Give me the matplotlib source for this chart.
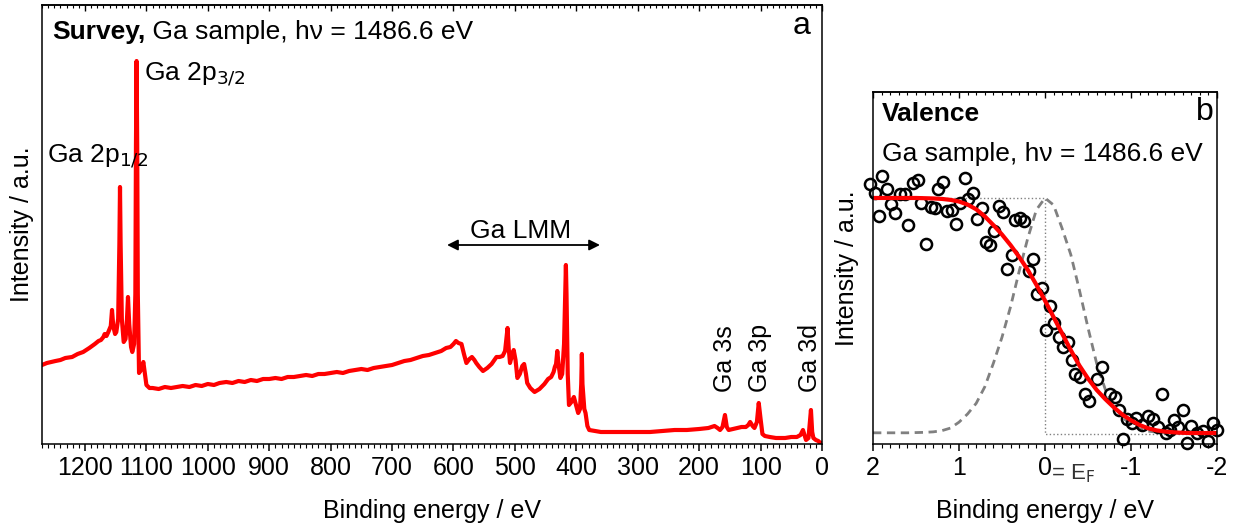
import numpy as np
import matplotlib.pyplot as plt
from matplotlib.ticker import MultipleLocator

plt.rcParams['font.family'] = ['Liberation Sans', 'DejaVu Sans']
plt.rcParams['font.size'] = 18

# Survey spectrum (binding energy in eV, intensity in a.u.)
survey_be = [1270, 1262, 1255, 1248, 1240, 1232, 1221, 1212, 1203, 1193, 1184, 1178, 1174,
             1170, 1168, 1165, 1162, 1158, 1156, 1154, 1151, 1149, 1146, 1144, 1143, 1142,
             1140, 1137, 1134, 1132, 1130, 1128, 1125, 1123, 1120, 1118, 1117, 1116, 1115,
             1114, 1112, 1108, 1105, 1102, 1100, 1095, 1090, 1080, 1070, 1060, 1050, 1041,
             1030, 1020, 1010, 1000, 990, 981, 970, 960, 950, 940, 930, 920, 910, 900, 890,
             880, 870, 860, 850, 840, 830, 820, 810, 800, 790, 780, 770, 760, 750, 740, 730,
             720, 710, 700, 690, 680, 670, 660, 650, 640, 630, 620, 612, 605, 600, 596, 592,
             587, 583, 579, 574, 570, 566, 563, 558, 552, 545, 538, 530, 525, 520, 516, 512,
             510, 508, 505, 502, 499, 496, 492, 488, 485, 482, 480, 475, 468, 460, 452, 446,
             441, 437, 435, 433, 431, 429, 426, 423, 420, 418, 417, 416, 414, 412, 408, 404,
             400, 397, 394, 392, 391, 390, 387, 385, 382, 379, 370, 360, 350, 340, 320, 300,
             280, 260, 240, 220, 200, 185, 175, 170, 166, 162, 158, 155, 152, 145, 138, 131,
             124, 120, 117, 113, 110, 106, 103, 100, 97, 93, 85, 75, 68, 60, 50, 41, 35, 31,
             28, 26, 22, 18, 16, 14, 10, 6, 3, 0]
survey_int = [79, 81, 82, 83, 84, 86, 87, 90, 92, 96, 100, 103, 104,
              107, 110, 108, 112, 118, 134, 118, 110, 112, 125, 200, 257, 200,
              125, 102, 105, 120, 147, 120, 97, 92, 100, 150, 300, 383, 300,
              150, 71, 75, 82, 68, 59, 56, 56, 55, 57, 56, 57, 58,
              57, 59, 58, 60, 59, 61, 62, 61, 63, 62, 64, 63, 65, 65, 66,
              65, 67, 67, 68, 69, 68, 70, 70, 71, 72, 71, 73, 74, 75, 74, 76,
              77, 78, 79, 81, 83, 84, 86, 88, 89, 91, 93, 96, 97, 100, 103, 101,
              100, 90, 81, 85, 87, 84, 81, 77, 73, 76, 80, 87, 87, 88, 93, 116,
              95, 81, 88, 94, 84, 66, 70, 78, 80, 70, 61, 56, 52, 55, 60, 65,
              67, 72, 77, 80, 93, 80, 66, 70, 100, 150, 179, 150, 70, 39, 42, 47,
              38, 31, 35, 60, 90, 60, 35, 31, 18, 14, 13, 12, 12, 12, 12, 12,
              12, 13, 14, 14, 15, 16, 18, 16, 14, 17, 29, 17, 14, 15, 16, 17,
              17, 19, 22, 18, 16, 22, 41, 25, 10, 8, 7, 6, 6, 6, 7, 7, 9, 14,
              8, 4, 6, 34, 12, 6, 4, 3, 1, 1]

# Valence band: measured points
vb_be = [2.03, 1.98, 1.93, 1.89, 1.84, 1.79, 1.74, 1.69, 1.63, 1.59, 1.53, 1.48, 1.44,
         1.38, 1.33, 1.28, 1.24, 1.19, 1.14, 1.08, 1.03, 0.99, 0.93, 0.90, 0.84, 0.79,
         0.73, 0.69, 0.64, 0.59, 0.54, 0.49, 0.44, 0.38, 0.35, 0.29, 0.24, 0.19, 0.14,
         0.09, 0.03, -0.01, -0.06, -0.11, -0.16, -0.21, -0.27, -0.31, -0.35, -0.41,
         -0.46, -0.51, -0.60, -0.66, -0.75, -0.81, -0.86, -0.91, -0.95, -1.01, -1.06,
         -1.13, -1.20, -1.26, -1.31, -1.36, -1.41, -1.45, -1.50, -1.55, -1.60, -1.65,
         -1.70, -1.77, -1.84, -1.90, -1.95, -2.00]
vb_int = [1.058, 1.020, 0.925, 1.094, 1.037, 0.973, 0.935, 1.016, 1.016, 0.886, 1.062, 1.076, 0.978,
          0.805, 0.963, 0.956, 1.038, 1.069, 0.945, 0.949, 0.890, 0.978, 1.083, 0.994, 1.020, 0.911,
          0.956, 0.815, 0.801, 0.861, 0.967, 0.939, 0.699, 0.758, 0.907, 0.914, 0.904, 0.691, 0.740,
          0.595, 0.619, 0.441, 0.542, 0.472, 0.410, 0.367, 0.391, 0.314, 0.254, 0.240,
          0.169, 0.141, 0.234, 0.285, 0.171, 0.156, 0.102, -0.023, 0.064, 0.047, 0.068,
          0.040, 0.075, 0.064, 0.030, 0.169, 0.004, 0.017, 0.058, 0.030, 0.100, -0.037,
          0.034, 0.004, 0.014, -0.029, 0.047, 0.016]

# Fit curve and broadening function
curve_be = [2.0, 1.9, 1.8, 1.7, 1.6, 1.5, 1.4, 1.3, 1.2, 1.1, 1.0, 0.9, 0.8, 0.7, 0.6, 0.5,
            0.4, 0.3, 0.2, 0.1, 0.0, -0.1, -0.2, -0.3, -0.4, -0.5, -0.6, -0.7, -0.8, -0.9,
            -1.0, -1.1, -1.2, -1.3, -1.4, -1.5, -1.6, -1.7, -1.8, -1.9, -2.0]
fit_int = [1.0, 1.0, 1.0, 1.0, 1.0, 1.0, 0.999, 0.998, 0.996, 0.992, 0.985, 0.972, 0.952,
           0.922, 0.885, 0.845, 0.80, 0.75, 0.695, 0.632, 0.565, 0.495, 0.425, 0.355, 0.29,
           0.235, 0.187, 0.148, 0.113, 0.082, 0.058, 0.038, 0.024, 0.015, 0.01, 0.007,
           0.005, 0.004, 0.004, 0.004, 0.004]
gauss_int = [0.005, 0.005, 0.005, 0.005, 0.005, 0.006, 0.007, 0.009, 0.014, 0.025, 0.05,
             0.085, 0.13, 0.2, 0.3, 0.41, 0.54, 0.69, 0.83, 0.95, 1.0, 0.97, 0.87, 0.76,
             0.61, 0.45, 0.3, 0.19, 0.12, 0.07, 0.04, 0.022, 0.012, 0.008, 0.006, 0.005,
             0.005, 0.005, 0.005, 0.005, 0.005]
step_be = [2.0, 0.0, 0.0, -2.0]
step_int = [1.0, 1.0, 0.0, 0.0]

fig = plt.figure(figsize=(12.42, 5.31), dpi=100)
ax1 = fig.add_axes([42 / 1242, 1 - 444 / 531, 780 / 1242, 439 / 531])
ax2 = fig.add_axes([873 / 1242, 1 - 444 / 531, 344 / 1242, 352 / 531])

# ---- panel a: survey ----
ax1.plot(survey_be, survey_int, color='#ff0000', lw=3.0, solid_joinstyle='round')
ax1.set_xlim(1270, 0)
ax1.set_ylim(0, 439)
ax1.set_yticks([])
ax1.xaxis.set_major_locator(MultipleLocator(100))
ax1.xaxis.set_minor_locator(MultipleLocator(10))
ax1.set_xlabel('Binding energy / eV', labelpad=14)
ax1.set_ylabel('Intensity / a.u.', labelpad=6)

t1 = ax1.text(0.0128, 0.938, 'Survey,', transform=ax1.transAxes, fontweight='bold',
              fontsize=19, ha='left', va='center')
ax1.annotate(' Ga sample, h\u03bd = 1486.6 eV', xy=(1, 0), xycoords=t1, fontsize=19,
             ha='left', va='bottom')
ax1.text(0.974, 0.952, 'a', transform=ax1.transAxes, fontsize=23, ha='center', va='center')

ax1.text(1104, 369, 'Ga 2p$_{3/2}$', fontsize=19, ha='left', va='center')
ax1.text(1262, 287, 'Ga 2p$_{1/2}$', fontsize=19, ha='left', va='center')
ax1.annotate('', xy=(357, 199), xytext=(615, 199),
             arrowprops=dict(arrowstyle='<|-|>', color='black', lw=1.3, mutation_scale=16))
ax1.text(490, 213, 'Ga LMM', fontsize=19, ha='center', va='center')
for be, lab in [(158, 'Ga 3s'), (101, 'Ga 3p'), (20, 'Ga 3d')]:
    ax1.text(be, 52, lab, rotation=90, ha='center', va='bottom')

# ---- panel b: valence ----
ax2.plot(step_be, step_int, color='#808080', lw=1.0, ls=':')
ax2.plot(curve_be, gauss_int, color='#808080', lw=2.0, ls=(0, (3, 2)))
ax2.plot(vb_be, vb_int, ls='none', marker='o', ms=8, mfc='none', mec='black', mew=1.8,
         clip_on=False)
ax2.plot(curve_be, fit_int, color='#ff0000', lw=3.0)
ax2.set_xlim(2, -2)
ax2.set_ylim(-0.0424, 1.449)
ax2.set_yticks([])
ax2.xaxis.set_major_locator(MultipleLocator(1))
ax2.xaxis.set_minor_locator(MultipleLocator(0.1))
ax2.set_xticks([2, 1, 0, -1, -2])
ax2.set_xticklabels(['2', '1', '0', '-1', '-2'])
ax2.set_xlabel('Binding energy / eV', labelpad=14)
ax2.set_ylabel('Intensity / a.u.', labelpad=10)
ax2.text(-0.07, -0.052, '= E$_\\mathrm{F}$', transform=ax2.get_xaxis_transform(),
         fontsize=16, color='#333333', ha='left', va='top')

ax2.text(0.026, 0.9375, 'Valence', transform=ax2.transAxes, fontweight='bold',
         fontsize=19, ha='left', va='center')
ax2.text(0.026, 0.824, 'Ga sample, h\u03bd = 1486.6 eV', transform=ax2.transAxes,
         fontsize=19, ha='left', va='center')
ax2.text(0.965, 0.943, 'b', transform=ax2.transAxes, fontsize=23, ha='center', va='center')

for ax in (ax1, ax2):
    for sp in ax.spines.values():
        sp.set_linewidth(1.1)
    ax.tick_params(axis='x', which='major', direction='out', length=5, width=1.1, top=False)
    ax.tick_params(axis='x', which='minor', direction='out', length=3, width=0.8, top=False)
    sec = ax.secondary_xaxis('top')
    sec.xaxis.set_major_locator(ax.xaxis.get_major_locator())
    sec.xaxis.set_minor_locator(ax.xaxis.get_minor_locator())
    sec.tick_params(axis='x', which='major', direction='in', length=4, width=1.0, labeltop=False)
    sec.tick_params(axis='x', which='minor', direction='in', length=2.5, width=0.8)
    sec.spines['top'].set_linewidth(1.1)

fig.savefig('out.png', dpi=100)
